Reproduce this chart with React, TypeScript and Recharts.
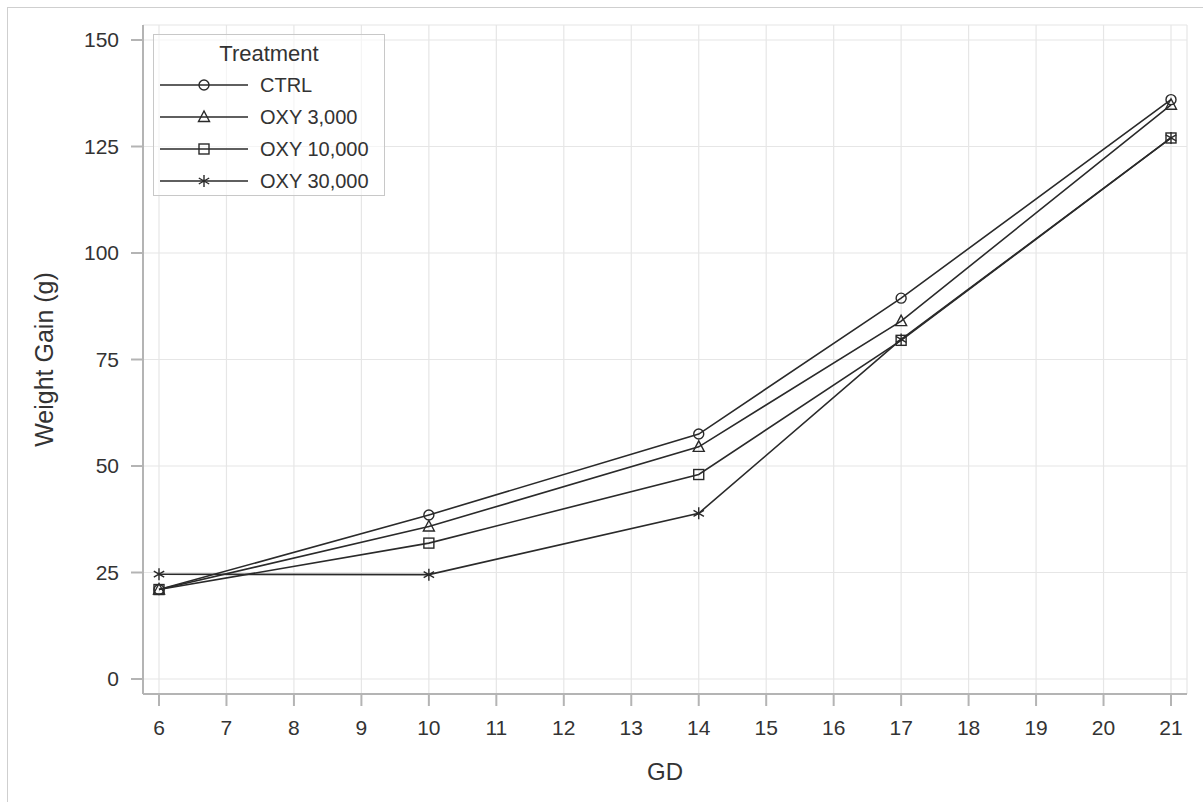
import { LineChart, Line, XAxis, YAxis, CartesianGrid, Legend } from "recharts";

// Weight gain by gestation day, one line per treatment group.
const GD = [6, 10, 14, 17, 21];
const CTRL = [21.0, 38.5, 57.5, 89.4, 136.0];
const OXY_3000 = [21.0, 35.8, 54.5, 84.0, 134.8];
const OXY_10000 = [21.0, 31.9, 48.0, 79.5, 127.0];
const OXY_30000 = [24.6, 24.5, 38.9, 79.7, 127.0];

const X_TICKS = [6, 7, 8, 9, 10, 11, 12, 13, 14, 15, 16, 17, 18, 19, 20, 21];
const Y_TICKS = [0, 25, 50, 75, 100, 125, 150];

type Marker = "circle" | "triangle" | "square" | "asterisk";
const SERIES: { key: string; label: string; values: number[]; marker: Marker }[] = [
  { key: "ctrl", label: "CTRL", values: CTRL, marker: "circle" },
  { key: "oxy3000", label: "OXY 3,000", values: OXY_3000, marker: "triangle" },
  { key: "oxy10000", label: "OXY 10,000", values: OXY_10000, marker: "square" },
  { key: "oxy30000", label: "OXY 30,000", values: OXY_30000, marker: "asterisk" },
];

const data = GD.map((gd, i) => {
  const row: Record<string, number> = { gd };
  for (const s of SERIES) row[s.key] = s.values[i];
  return row;
});

const FONT = '"Liberation Sans", Arial, sans-serif';
const INK = "#2a2a2a";
const TEXT = "#333";
const FRAME = "#b4b4b4";

function MarkerShape({ kind, cx, cy }: { kind: Marker; cx: number; cy: number }) {
  const common = { fill: "none", stroke: INK, strokeWidth: 1.4 };
  if (kind === "circle") return <circle cx={cx} cy={cy} r={5} {...common} />;
  if (kind === "triangle")
    return <path d={`M${cx},${cy - 6}L${cx - 5.5},${cy + 4.5}L${cx + 5.5},${cy + 4.5}Z`} {...common} />;
  if (kind === "square") return <rect x={cx - 5} y={cy - 5} width={10} height={10} {...common} />;
  return (
    <path
      d={`M${cx},${cy - 6}L${cx},${cy + 6}M${cx - 5.2},${cy - 3}L${cx + 5.2},${cy + 3}M${cx - 5.2},${cy + 3}L${cx + 5.2},${cy - 3}`}
      {...common}
    />
  );
}

function TreatmentLegend() {
  return (
    <div
      style={{
        border: "1px solid #c8c8c8",
        width: 232,
        height: 162,
        boxSizing: "border-box",
        fontFamily: FONT,
        color: TEXT,
        background: "rgba(255,255,255,0.6)",
        textAlign: "left",
      }}
    >
      <div style={{ textAlign: "center", fontSize: 22, lineHeight: "22px", marginTop: 8 }}>Treatment</div>
      <div style={{ marginTop: 4 }}>
        {SERIES.map((s) => (
          <div key={s.key} style={{ display: "flex", alignItems: "center", height: 32 }}>
            <svg width={100} height={20} style={{ marginLeft: 6 }}>
              <line x1={0} y1={10} x2={88} y2={10} stroke={INK} strokeWidth={1.6} />
              <MarkerShape kind={s.marker} cx={44} cy={10} />
            </svg>
            <span style={{ fontSize: 20 }}>{s.label}</span>
          </div>
        ))}
      </div>
    </div>
  );
}

export default function App() {
  return (
    <div style={{ position: "absolute", left: 0, top: 0, width: 1203, height: 802, overflow: "hidden", background: "#fff" }}>
      <div style={{ position: "absolute", left: 7, top: 7, width: 1220, height: 820, border: "1px solid #cfcfcf" }} />
      <div style={{ position: "absolute", left: 0, top: 0 }}>
        <LineChart width={1203} height={802} data={data} margin={{ top: 25, right: 16, bottom: 48, left: 0 }}>
          <CartesianGrid stroke="#e6e6e6" strokeWidth={1.2} />
          <XAxis
            dataKey="gd"
            type="number"
            domain={[6, 21]}
            ticks={X_TICKS}
            padding={{ left: 16, right: 16 }}
            height={60}
            interval={0}
            axisLine={{ stroke: FRAME, strokeWidth: 2 }}
            tickLine={{ stroke: FRAME, strokeWidth: 2 }}
            tickSize={12}
            tickMargin={14}
            tick={{ fill: TEXT, fontSize: 21, fontFamily: FONT }}
            label={{
              content: ({ viewBox }: any) => (
                <text x={viewBox.x + viewBox.width / 2} y={viewBox.y + 86} textAnchor="middle" fill={TEXT} fontSize={24} fontFamily={FONT}>
                  GD
                </text>
              ),
            }}
          />
          <XAxis xAxisId="top" orientation="top" dataKey="gd" type="number" domain={[6, 21]} height={0} tick={false} tickLine={false} axisLine={{ stroke: FRAME, strokeWidth: 2 }} />
          <YAxis
            type="number"
            domain={[0, 150]}
            ticks={Y_TICKS}
            padding={{ top: 15, bottom: 15 }}
            width={143}
            interval={0}
            axisLine={{ stroke: FRAME, strokeWidth: 2 }}
            tickLine={{ stroke: FRAME, strokeWidth: 2 }}
            tickSize={12}
            tickMargin={12}
            tick={{ fill: TEXT, fontSize: 21, fontFamily: FONT }}
            label={{
              content: ({ viewBox }: any) => {
                const x = 44;
                const y = viewBox.y + viewBox.height / 2;
                return (
                  <text x={x} y={y} transform={`rotate(-90, ${x}, ${y})`} textAnchor="middle" dominantBaseline="central" fill={TEXT} fontSize={25} fontFamily={FONT}>
                    Weight Gain (g)
                  </text>
                );
              },
            }}
          />
          <YAxis yAxisId="right" orientation="right" domain={[0, 150]} width={0} tick={false} tickLine={false} axisLine={{ stroke: FRAME, strokeWidth: 2 }} />
          <Legend
            layout="vertical"
            verticalAlign="middle"
            align="center"
            content={() => <TreatmentLegend />}
            wrapperStyle={{ position: "absolute", left: 153, top: 34, width: 232 }}
          />
          {SERIES.map((s) => (
            <Line
              key={s.key}
              dataKey={s.key}
              name={s.label}
              type="linear"
              stroke={INK}
              strokeWidth={1.6}
              isAnimationActive={false}
              activeDot={false}
              dot={(p: any) => <MarkerShape key={`${s.key}-${p.index}`} kind={s.marker} cx={p.cx} cy={p.cy} />}
            />
          ))}
        </LineChart>
      </div>
    </div>
  );
}
